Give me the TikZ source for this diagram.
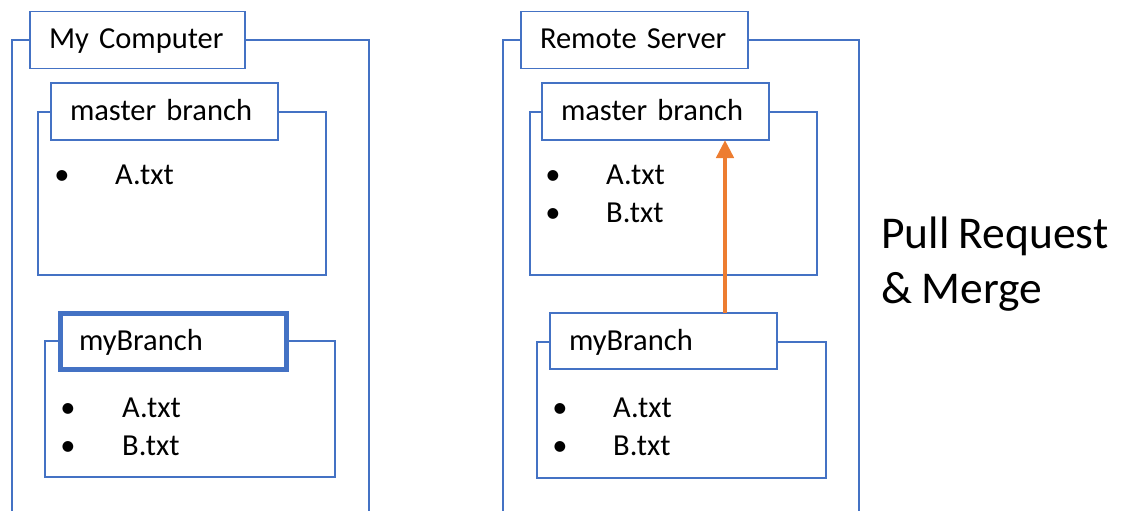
\documentclass[tikz,border=0pt]{standalone}
\usepackage{fontspec}
\setmainfont{Carlito}[WordSpace=0.9]
\usetikzlibrary{arrows.meta}
\definecolor{frameblue}{HTML}{4472C4}
\definecolor{mergeorange}{HTML}{ED7D31}
\tikzset{
  frame/.style={draw=frameblue, line width=1.5pt, rectangle, anchor=north west,
    outer sep=0pt, inner sep=0pt},
  titlebox/.style={draw=frameblue, fill=white, line width=1.5pt, rectangle,
    outer sep=0pt, inner xsep=19pt, inner ysep=0pt, minimum height=57pt,
    text height=18pt, text depth=0pt, align=left, font=\fontsize{30.5}{36}\selectfont},
  activebox/.style={titlebox, line width=5pt},
  bullet/.style={anchor=base, inner sep=0pt, font=\fontsize{30.5}{36}\selectfont},
  item/.style={anchor=base west, inner sep=0pt, font=\fontsize{30.5}{36}\selectfont},
  mergearrow/.style={draw=mergeorange, line width=4.5pt,
    -{Triangle[length=18pt,width=17pt]}}
}
\begin{document}
\begin{tikzpicture}[x=1pt,y=-1pt]
\useasboundingbox (0,0) rectangle (1122,511);

% ---- local machine ----
\node[frame, minimum width=357pt, minimum height=500pt] (pc) at (12,40) {};
\node[frame, minimum width=288pt, minimum height=163pt] (pcmaster) at (38,112) {};
\node[frame, minimum width=290pt, minimum height=136pt] (pcmy) at (45,341) {};

\node[titlebox, text width=177pt] (pct) at (137.5,40) {My Computer};
\node[titlebox, text width=189pt] (pcmastert) at (164.5,111.5) {master branch};
\node[activebox, text width=188pt, minimum height=56pt] (pcmyt) at (173,341.5) {myBranch};

\node[bullet] (pcb1) at (62,184) {•};
\node[item] (pcf1) at (115,184) {A.txt};
\node[bullet] (pcb2) at (68,417) {•};
\node[item] (pcf2) at (122,417) {A.txt};
\node[bullet] (pcb3) at (68,455) {•};
\node[item] (pcf3) at (122,455) {B.txt};

% ---- remote server ----
\node[frame, minimum width=356pt, minimum height=500pt] (srv) at (503,40) {};
\node[frame, minimum width=287pt, minimum height=163pt] (srvmaster) at (530,112) {};
\node[frame, minimum width=289pt, minimum height=136pt] (srvmy) at (537,342) {};

\node[titlebox, text width=189pt] (srvt) at (634.5,40) {Remote Server};
\node[titlebox, text width=189pt] (srvmastert) at (655.5,111.5) {master branch};
\node[titlebox, text width=189pt, minimum height=56pt] (srvmyt) at (663.5,341) {myBranch};

\node[bullet] (srvb1) at (553,184) {•};
\node[item] (srvf1) at (606,184) {A.txt};
\node[bullet] (srvb2) at (553,222) {•};
\node[item] (srvf2) at (606,222) {B.txt};
\node[bullet] (srvb3) at (560,417) {•};
\node[item] (srvf3) at (613,417) {A.txt};
\node[bullet] (srvb4) at (560,455) {•};
\node[item] (srvf4) at (613,455) {B.txt};

% ---- merge of myBranch into master ----
\coordinate (mergex) at (725,0);
\draw[mergearrow] (srvmyt.north -| mergex) -- (srvmastert.south -| mergex);

\node[anchor=base west, inner sep=0pt, align=left,
  font=\fontsize{45.5}{55}\selectfont] (prlabel) at (881,303) {Pull Request\\\& Merge};
\end{tikzpicture}
\end{document}
